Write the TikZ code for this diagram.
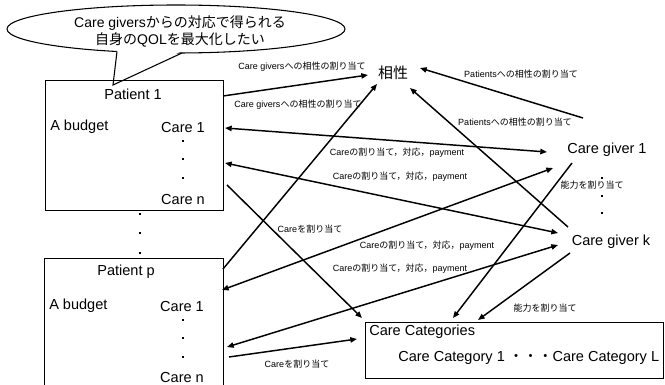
\documentclass[tikz,border=0pt]{standalone}
\usepackage{fontspec}
\setmainfont{Liberation Sans}
\newfontfamily\jp{Noto Sans CJK JP}
\usetikzlibrary{arrows.meta}
\begin{document}
\begin{tikzpicture}[x=0.75pt,y=-0.75pt,
  conn/.style={line width=1.1pt,-{Triangle[length=5pt,width=4pt]}},
  dconn/.style={line width=1.1pt,{Triangle[length=5pt,width=4pt]}-{Triangle[length=5pt,width=4pt]}},
  lbl/.style={font=\fontsize{6.75}{8}\selectfont,inner sep=0pt},
  big/.style={font=\fontsize{10.9}{13}\selectfont,inner sep=0pt},
  boxed/.style={draw,line width=0.8pt,inner sep=0pt,anchor=north west},
  sqdot/.style={fill,minimum size=2pt,inner sep=0pt}]
\useasboundingbox (0,0) rectangle (665,385);

% callout
\draw[fill=white,line width=0.8pt] (176,29) ellipse [x radius=169, y radius=24];
\fill[white] (117,49.5) -- (113,85) -- (182,51) -- cycle;
\draw[line width=0.8pt] (117,51.5) -- (113,85) -- (182,53);
\node[align=center,inner sep=0pt,font=\fontsize{10.5}{12.75}\selectfont] (callout) at (180,31)
  {Care givers{\jp からの対応で得られる}\\{\jp 自身の}QOL{\jp を最大化したい}};

% boxes
\node[boxed,minimum width=133.5pt,minimum height=97.5pt] (pbox1) at (45,80) {};
\node[boxed,minimum width=134.25pt,minimum height=97.5pt] (pboxp) at (44,258) {};
\node[boxed,minimum width=223.5pt,minimum height=42pt] (ccbox) at (365,322) {};

% patient 1
\node[big] (pt1) at (133,94) {Patient 1};
\node[big,anchor=west] (bud1) at (50,127) {A budget};
\node[big] (c11) at (183,127) {Care 1};
\node[big] (cn1) at (183,199) {Care n};
\node[sqdot] (d11) at (183,141) {};
\node[sqdot] (d12) at (183,159) {};
\node[sqdot] (d13) at (183,178) {};
% between
\node[sqdot] (m1) at (140,214) {};
\node[sqdot] (m2) at (140,233) {};
\node[sqdot] (m3) at (140,253) {};
% patient p
\node[big] (ptp) at (126,272) {Patient p};
\node[big,anchor=west] (budp) at (49,306) {A budget};
\node[big] (c1p) at (182,306) {Care 1};
\node[big] (cnp) at (182,377) {Care n};
\node[sqdot] (dp1) at (183,320) {};
\node[sqdot] (dp2) at (183,338) {};
\node[sqdot] (dp3) at (183,357) {};

% right side
\node[inner sep=0pt,font=\jp\fontsize{11.2}{13}\selectfont] (ais) at (393,73) {相性};
\node[big] (cg1) at (607,150) {Care giver 1};
\node[big] (cgk) at (611,242) {Care giver k};
\node[sqdot] (g1) at (602,178) {};
\node[sqdot] (g2) at (602,196) {};
\node[sqdot] (g3) at (602,213) {};
\node[big,anchor=west] (cct) at (369,332) {Care Categories};
\node[big,anchor=west] (ccl) at (398,358) {Care Category 1 {\jp ・・・}Care Category L};

% endpoints
\coordinate (a1s) at (223,96);  \coordinate (a1e) at (368,75);
\coordinate (a2s) at (223,269); \coordinate (a2e) at (377,84);
\coordinate (a3s) at (583,118); \coordinate (a3e) at (420,68);
\coordinate (a4s) at (568,227); \coordinate (a4e) at (410,88);
\coordinate (a5s) at (225,128); \coordinate (a5e) at (547,152);
\coordinate (a6s) at (225,163); \coordinate (a6e) at (558,233);
\coordinate (a7s) at (222,290); \coordinate (a7e) at (553,168);
\coordinate (a8s) at (227,347); \coordinate (a8e) at (558,245);
\coordinate (a9s) at (227,185); \coordinate (a9e) at (362,318);
\coordinate (a10s) at (229,357); \coordinate (a10e) at (357,339);
\coordinate (a11s) at (572,163); \coordinate (a11e) at (453,318);
\coordinate (a12s) at (570,253); \coordinate (a12e) at (478,320);

\draw[conn] (a1s) -- (a1e);
\draw[conn] (a2s) -- (a2e);
\draw[conn] (a3s) -- (a3e);
\draw[conn] (a4s) -- (a4e);
\draw[dconn] (a5s) -- (a5e);
\draw[dconn] (a6s) -- (a6e);
\draw[dconn] (a7s) -- (a7e);
\draw[dconn] (a8s) -- (a8e);
\draw[conn] (a9s) -- (a9e);
\draw[conn] (a10s) -- (a10e);
\draw[conn] (a11s) -- (a11e);
\draw[conn] (a12s) -- (a12e);

% labels
\node[lbl] (l1) at (302,67) {Care givers{\jp への相性の割り当て}};
\node[lbl] (l2) at (298,105) {Care givers{\jp への相性の割り当て}};
\node[lbl] (l3) at (521,74) {Patients{\jp への相性の割り当て}};
\node[lbl] (l4) at (515,122) {Patients{\jp への相性の割り当て}};
\node[lbl] (l5) at (397,153) {Care{\jp の割り当て，対応，}payment};
\node[lbl] (l6) at (400,177) {Care{\jp の割り当て，対応，}payment};
\node[lbl] (l7) at (427,246) {Care{\jp の割り当て，対応，}payment};
\node[lbl] (l8) at (400,269) {Care{\jp の割り当て，対応，}payment};
\node[lbl] (l9) at (310,229) {Care{\jp を割り当て}};
\node[lbl] (l10) at (297,364) {Care{\jp を割り当て}};
\node[lbl] (l11) at (592,185) {{\jp 能力を割り当て}};
\node[lbl] (l12) at (545,308) {{\jp 能力を割り当て}};
\end{tikzpicture}
\end{document}
